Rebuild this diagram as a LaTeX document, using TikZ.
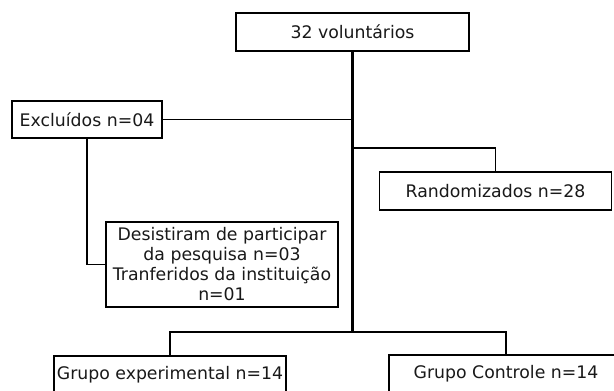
\documentclass[tikz,border=0pt]{standalone}
\usepackage{fontspec}
\setmainfont{DejaVu Sans}
\begin{document}
\begin{tikzpicture}[x=1bp,y=-1bp,
  box/.style={draw, line width=1.8bp, inner sep=0pt, align=center, text=black!90,
    font=\fontsize{17.3bp}{20bp}\selectfont},
  link/.style={draw, line width=1.8bp},
  trunkline/.style={draw, line width=2.2bp}]
\clip (0,0) rectangle (614,390);
\useasboundingbox (0,0) rectangle (614,390);
\fill[white] (0,0) rectangle (614,390);

\node[box, minimum width=233bp, minimum height=38bp] (top) at (352.5,32) {32 voluntários};
\node[box, minimum width=150bp, minimum height=37bp] (excl) at (87,119.5) {Excluídos n=04};
\node[box, minimum width=232bp, minimum height=85bp] (des) at (222,264.5) {Desistiram de participar\\da pesquisa n=03\\Tranferidos da instituição\\n=01};
\node[box, minimum width=232bp, minimum height=38bp] (rand) at (495.5,191) {Randomizados n=28};
\node[box, minimum width=232bp, minimum height=38bp] (gexp) at (170,375) {Grupo experimental n=14};
\node[box, minimum width=234bp, minimum height=38bp] (gctl) at (506,374) {Grupo Controle n=14};

\coordinate (jr) at (352.5,148);
\coordinate (jb) at (352.5,332);

\draw[trunkline] (top.south) -- (jb);
\draw[link] (excl.east) -- (excl.east -| top.south);
\draw[link] (excl.south) |- (des.west);
\draw[link] (jr) -| (rand.north);
\draw[link] (gexp.north) |- (jb) -| (gctl.north);
\end{tikzpicture}
\end{document}
